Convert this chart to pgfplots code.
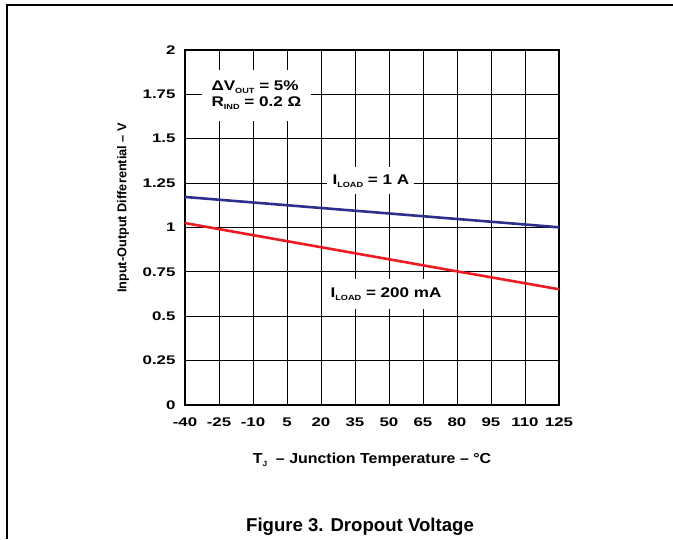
\documentclass[border=0pt]{standalone}
\usepackage{pgfplots}
\pgfplotsset{compat=1.18}
\usepackage{fontspec}
\usepackage{graphicx}
\setmainfont{Liberation Sans}[FakeStretch=1.35]
\newfontfamily\midfont{Liberation Sans}[FakeStretch=1.22]
\newfontfamily\lblfont{Liberation Sans}[FakeStretch=1.1]
\newfontfamily\capfont{Liberation Sans}
\definecolor{tiblue}{RGB}{44,48,140}
\definecolor{tired}{RGB}{237,28,36}
\newcommand\sub[1]{\raisebox{-0.4ex}{\fontsize{7.5}{7.5}\selectfont #1}}
\begin{document}
\begin{tikzpicture}
\path[use as bounding box] (0pt,0pt) rectangle (673pt,539pt);
\draw[line width=1.2pt] (7pt,0pt) -- (7pt,534pt) -- (673pt,534pt);
\begin{axis}[
  at={(185pt,134pt)}, anchor=south west,
  scale only axis, width=374pt, height=355pt,
  xmin=-40, xmax=125, ymin=0, ymax=2,
  xtick={-40,-25,...,125}, ytick={0,0.25,...,2},
  grid=major, major grid style={black, line width=0.8pt},
  axis line style={line width=1.8pt},
  tick style={draw=none},
  ticklabel style={font=\bfseries\fontsize{12.5}{12.5}\selectfont},
  /pgf/number format/assume math mode=true,
  yticklabel style={xshift=-6pt},
  xticklabel style={yshift=-9pt},
  clip=false,
]
\addplot[tiblue, line width=2.6pt] coordinates {(-40,1.172) (-10,1.141) (20,1.110) (50,1.079) (80,1.048) (110,1.017) (125,1.001)};
\addplot[tired, line width=2.6pt] coordinates {(-40,1.025) (-10,0.957) (20,0.889) (50,0.821) (80,0.753) (110,0.686) (125,0.652)};
\node[fill=white, align=left, minimum width=109pt, minimum height=51pt, inner sep=0pt, font=\midfont\bfseries\fontsize{14}{16.5}\selectfont] at (axis cs:-8.5,1.745) {ΔV\sub{OUT} = 5\%\\R\sub{IND} = 0.2 Ω};
\node[fill=white, minimum width=87pt, minimum height=27pt, inner sep=0pt, font=\midfont\bfseries\fontsize{14}{14}\selectfont] at (axis cs:42,1.262) {I\sub{LOAD} = 1 A};
\node[fill=white, minimum width=107pt, minimum height=30pt, inner sep=0pt, font=\midfont\bfseries\fontsize{14}{14}\selectfont] at (axis cs:48.7,0.625) {I\sub{LOAD} = 200 mA};
\end{axis}
\node[font=\lblfont\bfseries\fontsize{14.5}{14.5}\selectfont] at (372pt,79pt) {T\sub{J}\ \ – Junction Temperature – °C};
\node[rotate=90, font=\capfont\bfseries\fontsize{12.75}{12.75}\selectfont] at (123pt,331pt) {Input-Output Differential – V};
\node[anchor=base, font=\capfont\bfseries\fontsize{18.6}{18.6}\selectfont] at (360pt,8pt) {Figure 3. Dropout Voltage};
\end{tikzpicture}
\end{document}
